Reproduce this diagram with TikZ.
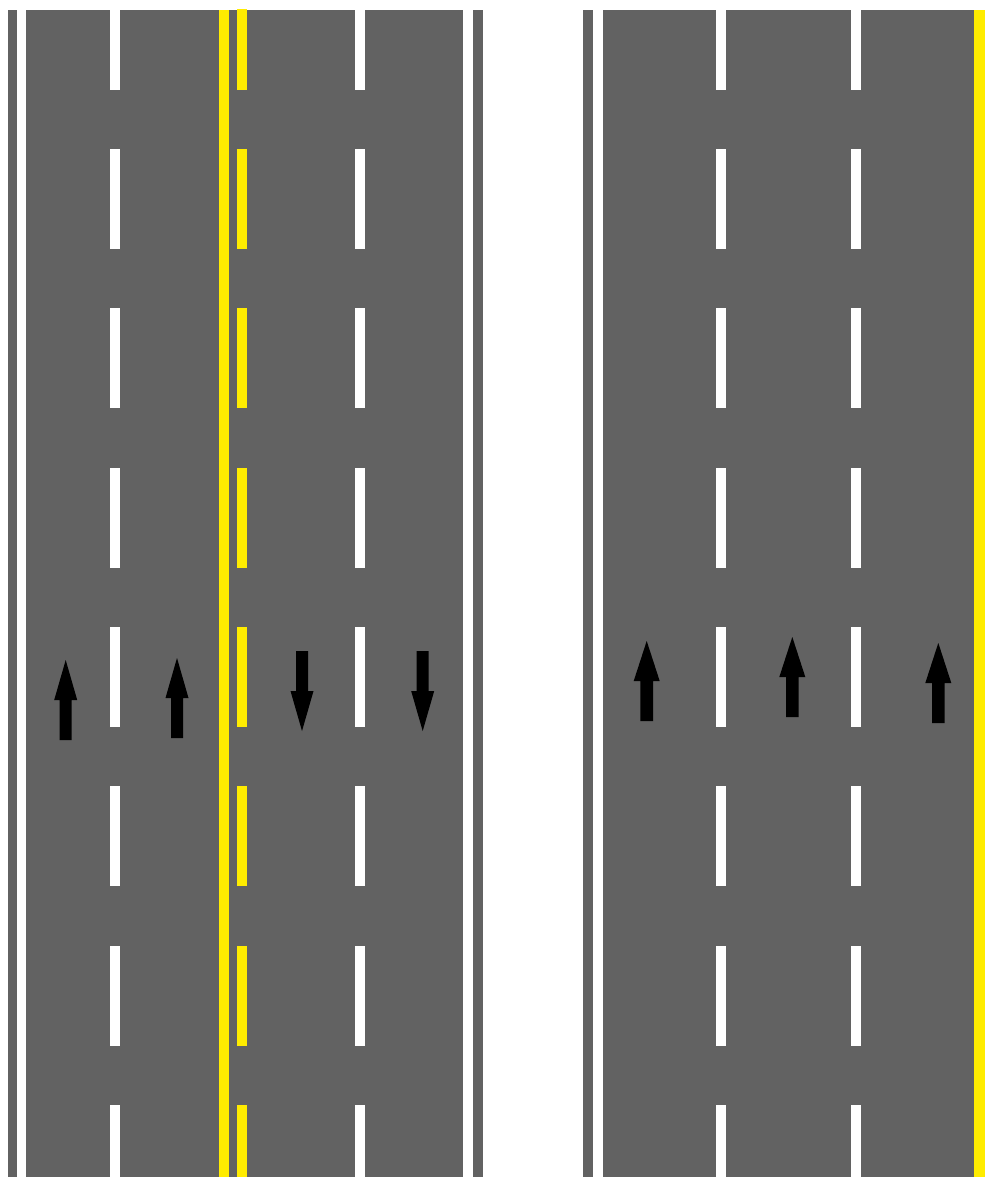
\documentclass[tikz,border=0pt]{standalone}
\usepackage{tikz}
\definecolor{asphalt}{RGB}{98,98,98}
\definecolor{roadyellow}{RGB}{255,236,0}

\begin{document}
\begin{tikzpicture}[
  x=0.1mm,y=-0.1mm,
  road/.style={fill=asphalt},
  whiteline/.style={fill=white},
  yellowline/.style={fill=roadyellow},
  lanearrow/.style={fill=black}
]
\useasboundingbox (0,0) rectangle (985,1177);
% left road, two lanes each way
\fill[road] (8,10) rectangle (483,1177);
\fill[whiteline] (17,10) rectangle (26,1177);
\fill[whiteline] (463,10) rectangle (473,1177);
\fill[yellowline] (219,10) rectangle (229,1177);
% right road, three lanes one way
\fill[road] (583,10) rectangle (974,1177);
\fill[whiteline] (593,10) rectangle (603,1177);
\fill[yellowline] (974,10) rectangle (985,1177);
% lane dashes
\begin{scope}
  \clip (0,10) rectangle (985,1177);
  \foreach \k in {0,...,7}{
    \pgfmathsetmacro\dashtop{626.9+159.3*(\k-4)}
    \fill[whiteline] (110,\dashtop) rectangle +(10,100);
    \fill[yellowline] (237,\dashtop) rectangle +(10,100);
    \fill[whiteline] (355,\dashtop) rectangle +(10,100);
    \fill[whiteline] (716,\dashtop) rectangle +(10,100);
    \fill[whiteline] (851,\dashtop) rectangle +(10,100);
  }
\end{scope}
% direction arrows
\foreach \x/\y/\s/\h/\w in {65.7/660/1/11.5/6, 177/658/1/11.5/6,
    302/731/-1/11.5/6, 422.7/731/-1/11.5/6,
    646.7/641/1/13/6.3, 792.3/637/1/13/6.3, 938.3/643/1/13/6.3}
  \fill[lanearrow,shift={(\x,\y)},yscale=\s]
    (0,0) -- (\h,40) -- (\w,40) -- (\w,80) -- (-\w,80) -- (-\w,40) -- (-\h,40) -- cycle;
\end{tikzpicture}
\end{document}
